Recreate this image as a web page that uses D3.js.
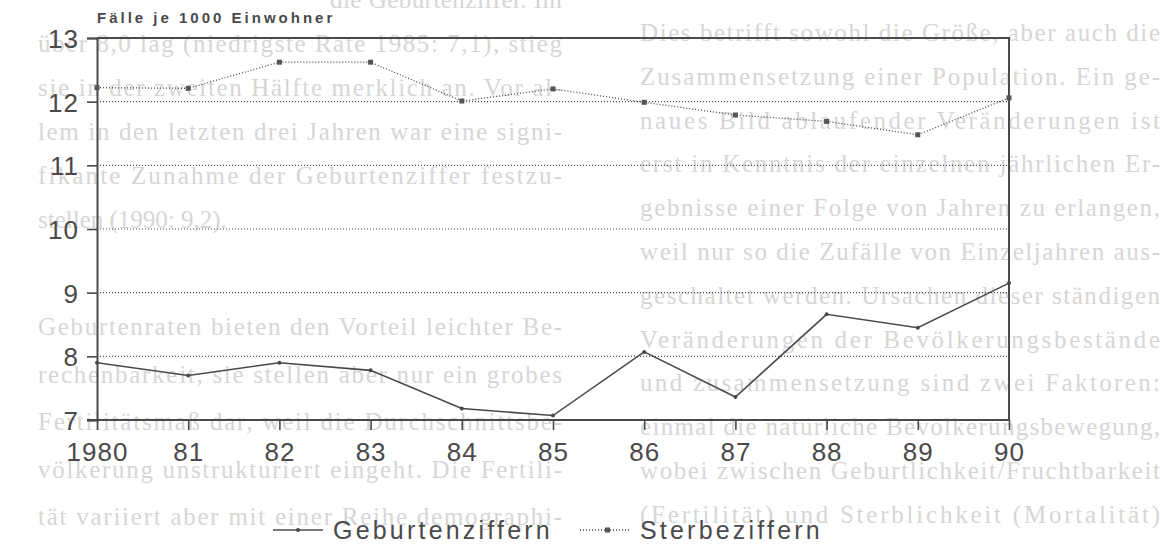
<!DOCTYPE html>
<html>
<head>
<meta charset="utf-8">
<script src="https://cdn.jsdelivr.net/npm/d3@7"></script>
<style>
  html, body { margin: 0; padding: 0; background: #fff; }
  svg { display: block; }
</style>
</head>
<body>
<div id="viz"></div>
<script>
// Chart data
const years = ['1980', '81', '82', '83', '84', '85', '86', '87', '88', '89', '90'];
const geburten = [7.9, 7.7, 7.9, 7.78, 7.18, 7.07, 8.07, 7.36, 8.66, 8.45, 9.15];
const sterbe = [12.22, 12.21, 12.62, 12.62, 12.01, 12.2, 11.99, 11.79, 11.69, 11.48, 12.06];
const yTicks = [7, 8, 9, 10, 11, 12, 13];
const gridTicks = [8, 9, 10, 11, 12];
const seriesNames = ['Geburtenziffern', 'Sterbeziffern'];
const yTitle = 'Fälle je 1000 Einwohner';

// Text showing through from the back of the scanned page
const bleedHead = ['die Geburtenziffer. Im'];
const bleedTop = [
  'über 8,0 lag (niedrigste Rate 1985: 7,1), stieg',
  'sie in der zweiten Hälfte merklich an. Vor al-',
  'lem in den letzten drei Jahren war eine signi-',
  'fikante Zunahme der Geburtenziffer festzu-',
  'stellen (1990: 9,2).'
];
const bleedLeft = [
  'Geburtenraten bieten den Vorteil leichter Be-',
  'rechenbarkeit, sie stellen aber nur ein grobes',
  'Fertilitätsmaß dar, weil die Durchschnittsbe-',
  'völkerung unstrukturiert eingeht. Die Fertili-',
  'tät variiert aber mit einer Reihe demographi-'
];
const bleedRight = [
  'Dies betrifft sowohl die Größe, aber auch die',
  'Zusammensetzung einer Population. Ein ge-',
  'naues Bild ablaufender Veränderungen ist',
  'erst in Kenntnis der einzelnen jährlichen Er-',
  'gebnisse einer Folge von Jahren zu erlangen,',
  'weil nur so die Zufälle von Einzeljahren aus-',
  'geschaltet werden. Ursachen dieser ständigen',
  'Veränderungen der Bevölkerungsbestände',
  'und zusammensetzung sind zwei Faktoren:',
  'einmal die natürliche Bevölkerungsbewegung,',
  'wobei zwischen Geburtlichkeit/Fruchtbarkeit',
  '(Fertilität) und Sterblichkeit (Mortalität)'
];

(function () {
  const W = 1160, H = 549;
  const ink = '#4a4a4a';
  const svg = d3.select('#viz').append('svg').attr('width', W).attr('height', H);

  // faint show-through text
  const bleed = svg.append('g')
    .attr('fill', '#d6d6d6')
    .attr('font-family', '"Liberation Serif", "DejaVu Serif", serif')
    .attr('font-size', 25);
  function column(lines, x0, x1, y0, step, lastFree) {
    bleed.append('g').selectAll('text').data(lines).enter().append('text')
      .attr('x', x0)
      .attr('y', (d, i) => y0 + i * step)
      .each(function (d, i) {
        if (!(lastFree && i === lines.length - 1)) {
          d3.select(this).attr('textLength', x1 - x0).attr('lengthAdjust', 'spacing');
        }
      })
      .text((d) => d);
  }
  column(bleedHead, 330, 562, 8, 44, false);
  column(bleedTop, 38, 562, 52, 44, true);
  column(bleedLeft, 38, 562, 335, 47.5, false);
  column(bleedRight, 640, 1160, 41, 43.8, false);

  const x = d3.scalePoint().domain(years).range([97, 1009]);
  const y = d3.scaleLinear().domain([7, 13]).range([420, 38]);

  // dotted grid
  svg.append('g').selectAll('line').data(gridTicks).enter().append('line')
    .attr('x1', x.range()[0]).attr('x2', x.range()[1])
    .attr('y1', (d) => y(d)).attr('y2', (d) => y(d))
    .attr('stroke', ink).attr('stroke-width', 1.2)
    .attr('stroke-dasharray', '1,2');

  // frame: top and right
  svg.append('line')
    .attr('x1', x.range()[0]).attr('x2', x.range()[1] + 1)
    .attr('y1', y(13)).attr('y2', y(13))
    .attr('stroke', ink).attr('stroke-width', 2);
  svg.append('line')
    .attr('x1', x.range()[1]).attr('x2', x.range()[1])
    .attr('y1', y(13)).attr('y2', y(7))
    .attr('stroke', ink).attr('stroke-width', 2);

  // axes
  const axisFont = '"Liberation Sans", Arial, sans-serif';
  const gx = svg.append('g')
    .attr('transform', `translate(0,${y(7)})`)
    .call(d3.axisBottom(x).tickSize(10).tickPadding(10));
  const gy = svg.append('g')
    .attr('transform', `translate(${x.range()[0]},0)`)
    .call(d3.axisLeft(y).tickValues(yTicks).tickFormat(d3.format('d')).tickSize(10).tickPadding(8));
  [gx, gy].forEach((g) => {
    g.select('.domain').attr('stroke', ink).attr('stroke-width', 2);
    g.selectAll('.tick line').attr('stroke', ink).attr('stroke-width', 1.6);
    g.selectAll('.tick text')
      .attr('fill', ink)
      .attr('font-family', axisFont)
      .attr('font-size', 26)
      .attr('letter-spacing', 1);
  });
  gx.select('.domain').attr('d', `M${x.range()[0] - 10},0H${x.range()[1]}`);
  gy.selectAll('.tick text').attr('dy', '0.36em');
  gx.selectAll('.tick text').attr('dy', '0.8em');

  // y title
  svg.append('text')
    .attr('x', 97).attr('y', 23)
    .attr('fill', ink)
    .attr('font-family', axisFont)
    .attr('font-weight', 'bold')
    .attr('font-size', 15)
    .attr('letter-spacing', 3)
    .text(yTitle);

  const line = d3.line().x((d, i) => x(years[i])).y((d) => y(d));

  // Sterbeziffern: dotted with small squares
  svg.append('path').datum(sterbe)
    .attr('d', line).attr('fill', 'none')
    .attr('stroke', ink).attr('stroke-width', 1.3)
    .attr('stroke-dasharray', '1,2');
  svg.append('g').selectAll('rect').data(sterbe).enter().append('rect')
    .attr('x', (d, i) => x(years[i]) - 2.5).attr('y', (d) => y(d) - 2.5)
    .attr('width', 5).attr('height', 5)
    .attr('fill', '#555');

  // Geburtenziffern: solid with small dots
  svg.append('path').datum(geburten)
    .attr('d', line).attr('fill', 'none')
    .attr('stroke', ink).attr('stroke-width', 1.6);
  svg.append('g').selectAll('circle').data(geburten).enter().append('circle')
    .attr('cx', (d, i) => x(years[i])).attr('cy', (d) => y(d))
    .attr('r', 2).attr('fill', ink);

  // legend
  const legend = svg.append('g');
  const items = [
    { name: seriesNames[0], x0: 273, dash: null, mark: 'dot' },
    { name: seriesNames[1], x0: 580, dash: '1,2', mark: 'square' }
  ];
  items.forEach((it) => {
    const ly = 530;
    legend.append('line')
      .attr('x1', it.x0).attr('x2', it.x0 + 50)
      .attr('y1', ly).attr('y2', ly)
      .attr('stroke', ink).attr('stroke-width', it.dash ? 1.3 : 1.6)
      .attr('stroke-dasharray', it.dash);
    if (it.mark === 'dot') {
      legend.append('circle').attr('cx', it.x0 + 25).attr('cy', ly).attr('r', 2).attr('fill', ink);
    } else {
      legend.append('rect').attr('x', it.x0 + 25).attr('y', ly - 2.5)
        .attr('width', 5).attr('height', 5).attr('fill', '#555');
    }
    legend.append('text')
      .attr('x', it.x0 + 60).attr('y', ly + 9)
      .attr('fill', ink)
      .attr('font-family', axisFont)
      .attr('font-size', 25)
      .attr('letter-spacing', 3.2)
      .text(it.name);
  });
})();
</script>
</body>
</html>
